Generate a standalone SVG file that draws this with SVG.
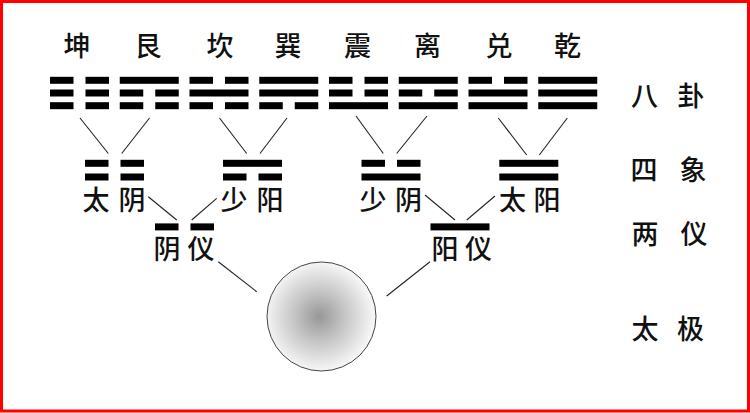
<svg xmlns="http://www.w3.org/2000/svg" width="750" height="413" viewBox="0 0 750 413">
<style>
.b{fill:#000}
.t{font-family:"Noto Sans CJK SC","Noto Sans CJK TC",sans-serif;font-size:27px;font-weight:500;fill:#111;text-anchor:middle;dominant-baseline:central}
.c{stroke:#222;stroke-width:1.1;fill:none}
</style>
<defs>
<radialGradient id="g" cx="0.48" cy="0.5" r="0.5">
<stop offset="0" stop-color="#979797"/>
<stop offset="0.45" stop-color="#c4c4c4"/>
<stop offset="1" stop-color="#f6f6f6"/>
</radialGradient>
<rect id="s" width="59" height="7" class="b"/>
<g id="k"><rect width="23.5" height="7" class="b"/><rect x="35.5" width="23.5" height="7" class="b"/></g>
</defs>
<rect x="0" y="0" width="750" height="413" fill="#fff"/>
<rect x="1.5" y="1.5" width="747" height="409.5" fill="none" stroke="#f00" stroke-width="3"/>

<g id="bagua">
<g id="kun"><text class="t" x="77" y="44">坤</text><use href="#k" x="50" y="76.8"/><use href="#k" x="50" y="89.5"/><use href="#k" x="50" y="102.2"/></g>
<g id="gen"><text class="t" x="148" y="44">艮</text><use href="#s" x="119.75" y="76.8"/><use href="#k" x="119.75" y="89.5"/><use href="#k" x="119.75" y="102.2"/></g>
<g id="kan"><text class="t" x="220" y="44">坎</text><use href="#k" x="189.5" y="76.8"/><use href="#s" x="189.5" y="89.5"/><use href="#k" x="189.5" y="102.2"/></g>
<g id="xun"><text class="t" x="288" y="44">巽</text><use href="#s" x="259.25" y="76.8"/><use href="#s" x="259.25" y="89.5"/><use href="#k" x="259.25" y="102.2"/></g>
<g id="zhen"><text class="t" x="357.5" y="44">震</text><use href="#k" x="329" y="76.8"/><use href="#k" x="329" y="89.5"/><use href="#s" x="329" y="102.2"/></g>
<g id="li"><text class="t" x="427.5" y="44">离</text><use href="#s" x="398.75" y="76.8"/><use href="#k" x="398.75" y="89.5"/><use href="#s" x="398.75" y="102.2"/></g>
<g id="dui"><text class="t" x="499" y="44">兑</text><use href="#k" x="468.5" y="76.8"/><use href="#s" x="468.5" y="89.5"/><use href="#s" x="468.5" y="102.2"/></g>
<g id="qian"><text class="t" x="567.5" y="44">乾</text><use href="#s" x="538.25" y="76.8"/><use href="#s" x="538.25" y="89.5"/><use href="#s" x="538.25" y="102.2"/></g>
</g>

<g id="sixiang">
<g id="taiyin"><use href="#k" x="85" y="159.8"/><use href="#k" x="85" y="173.5"/><text class="t" x="96" y="198">太</text><text class="t" x="132" y="198">阴</text></g>
<g id="shaoyang"><use href="#s" x="223" y="159.8"/><use href="#k" x="223" y="173.5"/><text class="t" x="234" y="198">少</text><text class="t" x="270" y="198">阳</text></g>
<g id="shaoyin"><use href="#k" x="361.5" y="159.8"/><use href="#s" x="361.5" y="173.5"/><text class="t" x="373" y="198">少</text><text class="t" x="408.5" y="198">阴</text></g>
<g id="taiyang"><use href="#s" x="499.3" y="159.8"/><use href="#s" x="499.3" y="173.5"/><text class="t" x="512.5" y="198">太</text><text class="t" x="547" y="198">阳</text></g>
</g>

<g id="liangyi">
<g id="yinyi"><use href="#k" x="155" y="223.4"/><text class="t" x="167" y="247.5">阴</text><text class="t" x="201" y="247.5">仪</text></g>
<g id="yangyi"><use href="#s" x="430.5" y="223.4"/><text class="t" x="445" y="247.5">阳</text><text class="t" x="478.5" y="247.5">仪</text></g>
</g>

<g id="taiji"><circle cx="321.5" cy="316.5" r="54.5" fill="url(#g)" stroke="#444" stroke-width="1"/></g>

<g id="labels">
<g id="l-bagua"><text class="t" x="644.5" y="94.5">八</text><text class="t" x="691" y="94.5">卦</text></g>
<g id="l-sixiang"><text class="t" x="644" y="168">四</text><text class="t" x="693" y="168">象</text></g>
<g id="l-liangyi"><text class="t" x="645" y="232.5">两</text><text class="t" x="694" y="232.5">仪</text></g>
<g id="l-taiji"><text class="t" x="645" y="327.5">太</text><text class="t" x="690.5" y="327.5">极</text></g>
</g>

<g id="connectors" class="c">
<line x1="80" y1="118" x2="108.3" y2="153.5"/>
<line x1="149.5" y1="118" x2="121.7" y2="153.5"/>
<line x1="219.5" y1="118" x2="246.7" y2="153.5"/>
<line x1="287" y1="118" x2="260" y2="153.5"/>
<line x1="356" y1="116" x2="383.3" y2="153.5"/>
<line x1="427" y1="116" x2="396.7" y2="153.5"/>
<line x1="498.3" y1="118" x2="526.7" y2="155"/>
<line x1="567.3" y1="118" x2="539.3" y2="155"/>
<line x1="148.3" y1="196.7" x2="176.7" y2="220"/>
<line x1="216.7" y1="198.3" x2="191.7" y2="220"/>
<line x1="425" y1="195" x2="455" y2="220"/>
<line x1="495" y1="196" x2="466.7" y2="220"/>
<line x1="218.3" y1="261.7" x2="256.7" y2="291.7"/>
<line x1="430" y1="261.7" x2="386.7" y2="296"/>
</g>
</svg>
